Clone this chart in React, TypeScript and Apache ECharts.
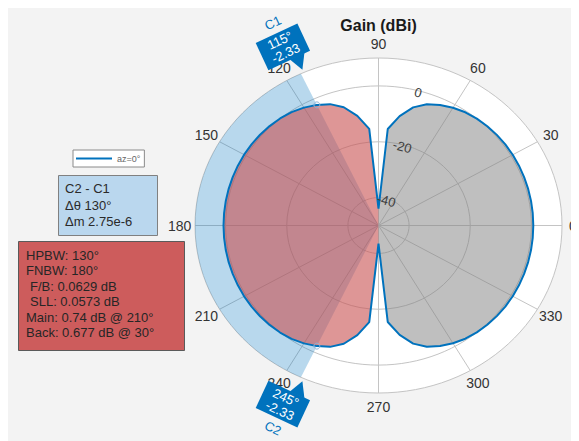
import React, { useEffect, useRef } from "react";
import * as echarts from "echarts";

// ---------- data ----------
const angleTicks = [0, 30, 60, 90, 120, 150, 180, 210, 240, 270, 300, 330];
const ringTicks = [-40, -20, 0];
const rMin = -50;
const rMax = 10;
const ringLabelAngle = 75;

const patternAngles = [
  0, 5, 10, 15, 20, 25, 30, 35, 40, 45, 50, 55, 60, 65, 70, 75, 80, 85,
  90, 95, 100, 105, 110, 115, 120, 125, 130, 135, 140, 145, 150, 155, 160, 165, 170, 175,
  180, 185, 190, 195, 200, 205, 210, 215, 220, 225, 230, 235, 240, 245, 250, 255, 260, 265,
  270, 275, 280, 285, 290, 295, 300, 305, 310, 315, 320, 325, 330, 335, 340, 345, 350, 355,
];
const gainDb = [
  0.614, 0.62, 0.64, 0.655, 0.668, 0.675, 0.677, 0.62, 0.5, 0.3, 0.0, -0.5, -1.3, -2.39, -3.8, -6.2, -10.2, -15.3,
  -44.0, -15.24, -10.14, -6.14, -3.74, -2.33, -1.24, -0.44, 0.06, 0.36, 0.56, 0.68, 0.74, 0.738, 0.731, 0.718, 0.703, 0.683,
  0.677, 0.683, 0.703, 0.718, 0.731, 0.738, 0.74, 0.68, 0.56, 0.36, 0.06, -0.44, -1.24, -2.33, -3.74, -6.14, -10.14, -15.24,
  -43.5, -15.3, -10.2, -6.2, -3.8, -2.39, -1.3, -0.5, 0.0, 0.3, 0.5, 0.62, 0.677, 0.675, 0.668, 0.655, 0.64, 0.62,
];
const mainLobeRange = [90, 270];
const cursors = [
  { name: "C1", angle: 115, value: -2.33 },
  { name: "C2", angle: 245, value: -2.33 },
];
const seriesName = "az=0°";
const titleText = "Gain (dBi)";
const cursorSummary = ["C2 - C1", "Δθ 130°", "Δm 2.75e-6"];
const lobeSummary = ["HPBW: 130°", "FNBW: 180°", "F/B: 0.0629 dB", "SLL: 0.0573 dB", "Main: 0.74 dB @ 210°", "Back: 0.677 dB @ 30°"];
const lobeIndent = [0, 0, 1, 1, 0, 0];

// ---------- style ----------
const FONT = "'Liberation Sans', Arial, Helvetica, sans-serif";
const GRID = "#c4c4c4";
const BLUE = "#0072BD";
const CHART_W = 571;
const CHART_H = 437;

const rad = (d: number) => (d * Math.PI) / 180;
const toXY = (ang: number, db: number) => {
  const r = db - rMin;
  return [r * Math.cos(rad(ang)), r * Math.sin(rad(ang))];
};
const inMain = (a: number) => a >= mainLobeRange[0] && a <= mainLobeRange[1];

const App = () => {
  const ref = useRef<HTMLDivElement>(null);
  useEffect(() => {
    const chart = echarts.init(ref.current!, undefined, { renderer: "svg" });
    const R = rMax - rMin;

    const linePts = patternAngles.map((a, i) => toXY(a, gainDb[i]));
    linePts.push(linePts[0]);

    const mainIdx = patternAngles.map((a, i) => i).filter((i) => inMain(patternAngles[i]));
    const backIdx = [
      ...patternAngles.map((a, i) => i).filter((i) => patternAngles[i] >= mainLobeRange[1]),
      ...patternAngles.map((a, i) => i).filter((i) => patternAngles[i] <= mainLobeRange[0]),
    ];

    const option: any = {
      animation: false,
      backgroundColor: "#f3f3f3",
      title: {
        text: titleText,
        left: 370.5,
        top: 13,
        textAlign: "center",
        padding: 0,
        textStyle: { fontFamily: FONT, fontSize: 16, fontWeight: "bold", color: "#1a1a1a" },
      },
      legend: {
        data: [{ name: seriesName, icon: "rect" }],
        left: 65,
        top: 146,
        orient: "horizontal",
        selectedMode: false,
        backgroundColor: "#ffffff",
        borderColor: "#8a8a8a",
        borderWidth: 1,
        borderRadius: 0,
        padding: [4, 4, 4, 3],
        itemWidth: 36,
        itemHeight: 2,
        textStyle: { fontFamily: FONT, fontSize: 9, color: "#666" },
      },
      grid: { left: 187, top: 54, width: 367, height: 335 },
      xAxis: { type: "value", min: -R, max: R, show: false },
      yAxis: { type: "value", min: -R, max: R, show: false },
      series: [
        {
          type: "custom",
          name: "grid",
          coordinateSystem: "cartesian2d",
          silent: true,
          clip: false,
          z: 1,
          data: [[0, 0]],
          renderItem: (params: any, api: any) => {
            const c = api.coord([0, 0]);
            const ell = (db: number) => {
              const px = api.coord(toXY(0, db));
              const py = api.coord(toXY(90, db));
              return { cx: c[0], cy: c[1], rx: px[0] - c[0], ry: c[1] - py[1] };
            };
            const children: any[] = [];
            children.push({ type: "ellipse", shape: ell(rMax), style: { fill: "#ffffff", stroke: GRID, lineWidth: 1 } });
            ringTicks.forEach((t) =>
              children.push({ type: "ellipse", shape: ell(t), style: { fill: "none", stroke: GRID, lineWidth: 1 } })
            );
            angleTicks.forEach((a) => {
              const e = api.coord(toXY(a, rMax));
              children.push({
                type: "line",
                shape: { x1: c[0], y1: c[1], x2: e[0], y2: e[1] },
                style: { stroke: GRID, lineWidth: 1 },
              });
            });
            angleTicks.forEach((a) => {
              const p = api.coord(toXY(a, rMax + 5));
              const x = Math.min(p[0], CHART_W - 6);
              children.push({
                type: "text",
                x,
                y: p[1],
                style: {
                  text: String(a),
                  fill: "#333333",
                  font: `14px ${FONT}`,
                  align: "center",
                  verticalAlign: "middle",
                  textAlign: "center",
                  textVerticalAlign: "middle",
                },
              });
            });
            return { type: "group", children };
          },
        },
        {
          type: "custom",
          name: "span",
          coordinateSystem: "cartesian2d",
          silent: true,
          clip: false,
          z: 2,
          data: [[cursors[0].angle, cursors[1].angle]],
          renderItem: (params: any, api: any) => {
            const a0 = api.value(0);
            const a1 = api.value(1);
            const pts: number[][] = [api.coord([0, 0])];
            for (let a = a0; a <= a1; a += 1) pts.push(api.coord(toXY(a, rMax)));
            return {
              type: "polygon",
              shape: { points: pts },
              style: { fill: "rgba(0,114,189,0.28)", stroke: "none" },
            };
          },
        },
        {
          type: "custom",
          name: "lobes",
          coordinateSystem: "cartesian2d",
          silent: true,
          clip: false,
          z: 3,
          data: [[0, 0]],
          renderItem: (params: any, api: any) => {
            const c = api.coord([0, 0]);
            const mainPts = [c, ...mainIdx.map((i) => api.coord(toXY(patternAngles[i], gainDb[i])))];
            const backPts = [c, ...backIdx.map((i) => api.coord(toXY(patternAngles[i], gainDb[i])))];
            return {
              type: "group",
              children: [
                { type: "polygon", shape: { points: mainPts }, style: { fill: "rgba(200,80,80,0.6)", stroke: "none" } },
                { type: "polygon", shape: { points: backPts }, style: { fill: "rgba(128,128,128,0.5)", stroke: "none" } },
              ],
            };
          },
        },
        {
          type: "line",
          name: seriesName,
          data: linePts,
          symbol: "none",
          silent: true,
          z: 4,
          lineStyle: { color: BLUE, width: 2 },
          itemStyle: { color: BLUE },
        },
        {
          type: "custom",
          name: "ringLabels",
          coordinateSystem: "cartesian2d",
          silent: true,
          clip: false,
          z: 5,
          data: ringTicks.map((t) => toXY(ringLabelAngle, t)),
          renderItem: (params: any, api: any) => {
            const t = ringTicks[params.dataIndex];
            const p = api.coord([api.value(0), api.value(1)]);
            return {
              type: "text",
              x: p[0],
              y: p[1] + 2,
              rotation: rad(ringLabelAngle - 90),
              style: {
                text: String(t),
                fill: "#404040",
                font: `13px ${FONT}`,
                align: "center",
                verticalAlign: "middle",
                textAlign: "center",
                textVerticalAlign: "middle",
              },
            };
          },
        },
        {
          type: "custom",
          name: "cursors",
          coordinateSystem: "cartesian2d",
          silent: true,
          clip: false,
          z: 7,
          data: cursors.map((cu) => [...toXY(cu.angle, rMax), cu.angle, cu.value]),
          renderItem: (params: any, api: any) => {
            const cu = cursors[params.dataIndex];
            const anchor = api.coord([api.value(0), api.value(1)]);
            const onPattern = api.coord(toXY(cu.angle, cu.value));
            const upper = cu.angle < 180;
            const s = upper ? -1 : 1;
            const rot = upper ? rad(cu.angle - 90) : rad(cu.angle - 270);
            const txt = (text: string, x: number, y: number, color: string) => ({
              type: "text",
              x,
              y,
              style: {
                text,
                fill: color,
                font: `13px ${FONT}`,
                align: "center",
                verticalAlign: "middle",
                textAlign: "center",
                textVerticalAlign: "middle",
              },
            });
            return {
              type: "group",
              children: [
                {
                  type: "circle",
                  shape: { cx: onPattern[0], cy: onPattern[1], r: 3 },
                  style: { fill: "none", stroke: "#8fb3d6", lineWidth: 1 },
                },
                {
                  type: "group",
                  x: anchor[0],
                  y: anchor[1],
                  rotation: rot,
                  children: [
                    {
                      type: "polygon",
                      shape: { points: [[-4, s * 17.5], [12, s * 17.5], [3, s * 3]] },
                      style: { fill: BLUE },
                    },
                    {
                      type: "rect",
                      shape: { x: -28, y: upper ? -47 : 17, width: 46, height: 30 },
                      style: { fill: BLUE },
                    },
                    txt(`${cu.angle}°`, -5, s * (upper ? 39 : 25), "#ffffff"),
                    txt(cu.value.toFixed(2), -5, s * (upper ? 25 : 39), "#ffffff"),
                    txt(cu.name, -4, s * 58, BLUE),
                  ],
                },
              ],
            };
          },
        },
      ],
      graphic: [
        {
          type: "rect",
          z: 10,
          shape: { x: 50.5, y: 171.5, width: 99, height: 60 },
          style: { fill: "#BAD7EE", stroke: "#808080", lineWidth: 1 },
        },
        ...cursorSummary.map((t, i) => ({
          type: "text",
          z: 11,
          x: 57,
          y: 184.5 + i * 16.5,
          style: {
            text: t,
            fill: "#2a2a2a",
            font: `13px ${FONT}`,
            verticalAlign: "middle",
            textVerticalAlign: "middle",
          },
        })),
        {
          type: "rect",
          z: 10,
          shape: { x: 10.5, y: 237.5, width: 166, height: 109 },
          style: { fill: "#CD5C5C", stroke: "#5a5a5a", lineWidth: 1 },
        },
        ...lobeSummary.map((t, i) => ({
          type: "text",
          z: 11,
          x: 18 + lobeIndent[i] * 4,
          y: 251 + i * 15.5,
          style: {
            text: t,
            fill: "#262626",
            font: `13px ${FONT}`,
            verticalAlign: "middle",
            textVerticalAlign: "middle",
          },
        })),
      ],
    };
    chart.setOption(option);
    return () => chart.dispose();
  }, []);
  return (
    <div
      ref={ref}
      style={{ width: CHART_W, height: CHART_H, position: "relative", top: -4, background: "#f3f3f3" }}
    />
  );
};

export default App;
